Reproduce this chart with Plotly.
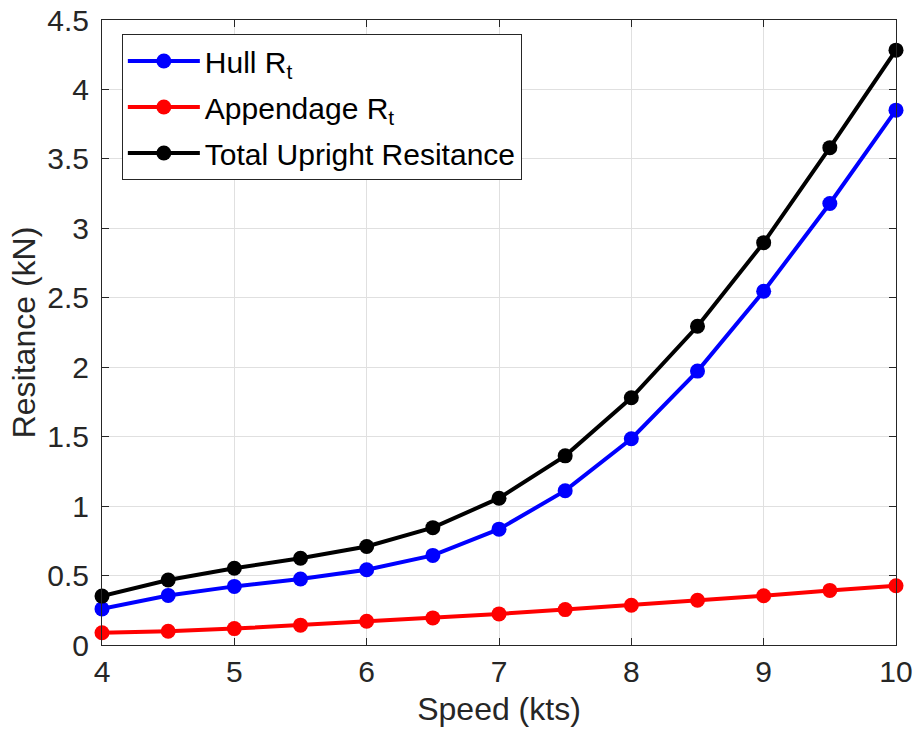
import plotly.graph_objects as go

speed = [4, 4.5, 5, 5.5, 6, 6.5, 7, 7.5, 8, 8.5, 9, 9.5, 10]
hull_rt = [0.26, 0.357, 0.422, 0.475, 0.542, 0.645, 0.834, 1.111, 1.485, 1.972, 2.547, 3.179, 3.851]
appendage_rt = [0.088, 0.099, 0.118, 0.143, 0.171, 0.195, 0.224, 0.255, 0.286, 0.322, 0.355, 0.393, 0.427]
total_rt = [0.352, 0.468, 0.553, 0.625, 0.709, 0.845, 1.057, 1.362, 1.78, 2.295, 2.897, 3.581, 4.283]

series_names = ["Hull R<sub>t</sub>", "Appendage R<sub>t</sub>", "Total Upright Resitance"]
series_values = [hull_rt, appendage_rt, total_rt]
series_colors = ["#0000FF", "#FF0000", "#000000"]

x_ticks = [4, 5, 6, 7, 8, 9, 10]
y_ticks = [0, 0.5, 1, 1.5, 2, 2.5, 3, 3.5, 4, 4.5]
y_tick_labels = ["0", "0.5", "1", "1.5", "2", "2.5", "3", "3.5", "4", "4.5"]

FONT = "Liberation Sans, Arial, sans-serif"
AX = "#262626"

fig = go.Figure()
for i, (name, vals, col) in enumerate(zip(series_names, series_values, series_colors)):
    fig.add_trace(go.Scatter(
        x=speed, y=vals, name=name, mode="lines+markers",
        line=dict(color=col, width=4),
        marker=dict(color=col, size=15),
        cliponaxis=False,
        legendgroup=f"g{i}",
    ))

axis_common = dict(
    showline=True, linecolor=AX, linewidth=1, mirror="ticks",
    ticks="inside", ticklen=7, tickcolor=AX, tickwidth=1,
    showgrid=True, gridcolor="#e0e0e0", gridwidth=1,
    zeroline=False, automargin=False,
    tickfont=dict(family=FONT, size=30, color=AX),
)

fig.update_layout(
    width=917, height=732,
    paper_bgcolor="white", plot_bgcolor="white",
    margin=dict(l=102, r=21, t=20, b=87, autoexpand=False),
    font=dict(family=FONT, color=AX),
    xaxis=dict(range=[4, 10], tickvals=x_ticks,
               title=dict(text="Speed (kts)", font=dict(family=FONT, size=32, color=AX), standoff=10),
               **axis_common),
    yaxis=dict(range=[0, 4.5], tickvals=y_ticks, ticktext=y_tick_labels,
               ticklabelstandoff=6,
               title=dict(text="Resitance (kN)", font=dict(family=FONT, size=32, color=AX), standoff=2),
               **axis_common),
    legend=dict(
        x=0.025, y=0.9776, xanchor="left", yanchor="top",
        bgcolor="white", bordercolor=AX, borderwidth=1,
        font=dict(family=FONT, size=30, color="#000000"),
        itemwidth=72, tracegroupgap=4,
    ),
    showlegend=True,
)

fig.write_html(
    "out.html",
    config={"displayModeBar": False},
    post_script="document.body.style.margin='0';document.body.style.padding='0';",
)
